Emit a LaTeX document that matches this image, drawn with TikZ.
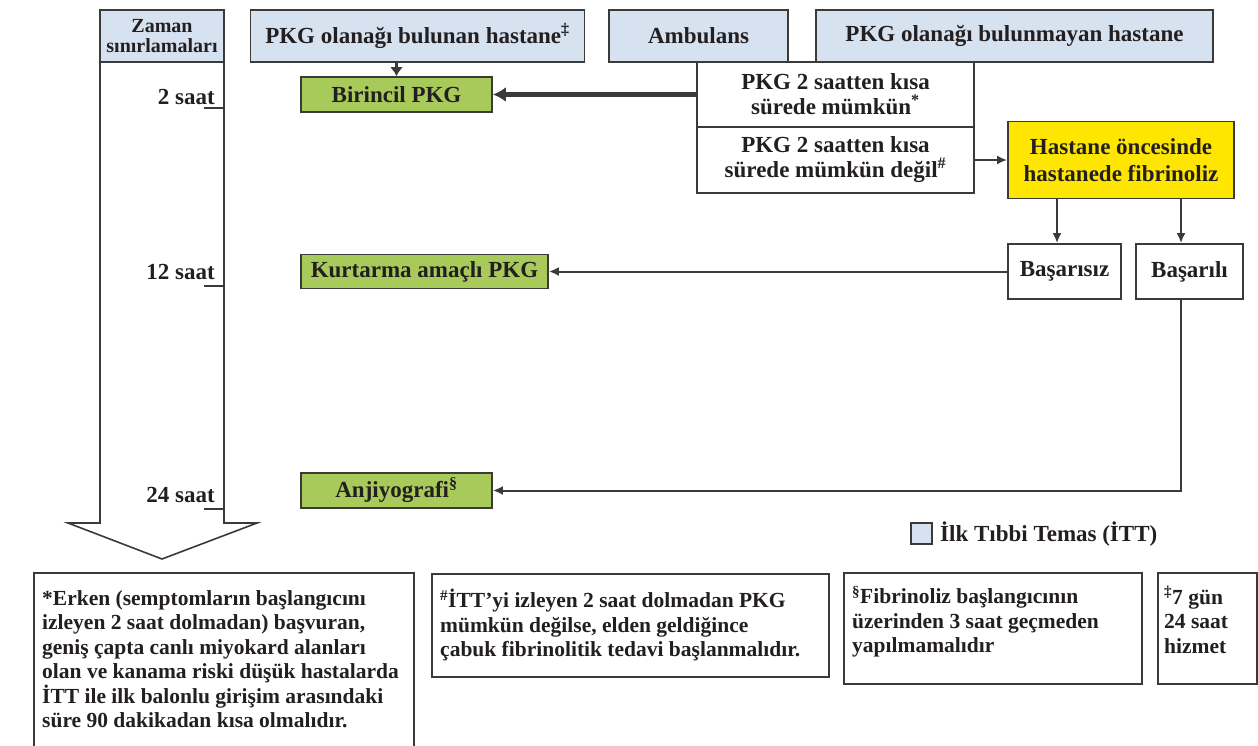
\documentclass[tikz,border=0pt]{standalone}
\usepackage{fontspec}
\setmainfont{Liberation Serif}
\usetikzlibrary{arrows.meta}
\definecolor{ink}{HTML}{231F20}
\definecolor{itt}{HTML}{D6E2F0}
\definecolor{grn}{HTML}{A8CA5A}
\definecolor{ylw}{HTML}{FFE600}
\definecolor{edge}{HTML}{3A3A3A}
\begin{document}
\begin{tikzpicture}[x=1pt,y=-1pt,
  every node/.style={font=\bfseries\fontsize{23}{23}\selectfont, text=ink},
  box/.style={draw=edge, line width=1.8pt, inner sep=0pt, align=center},
  ittbox/.style={box, fill=itt, minimum height=52pt},
  greenbox/.style={box, fill=grn, minimum height=35pt},
  whitebox/.style={box, fill=white},
  twoline/.style={font=\bfseries\fontsize{23}{25}\selectfont},
  notebox/.style={draw=edge, line width=1.8pt, inner sep=0pt, anchor=north west},
  notetext/.style={anchor=north west, align=left, inner sep=0pt, font=\bfseries\fontsize{21.5}{24.5}\selectfont},
  timelabel/.style={anchor=base east, inner sep=0pt},
  tick/.style={draw=edge, line width=1.6pt},
  thin arrow/.style={draw=edge, line width=2pt, -{Latex[length=10pt,width=9pt]}},
]
\useasboundingbox (0,0) rectangle (1258,745);
\fill[white] (0,0) rectangle (1258,745);

% big time arrow
\draw[draw=edge, line width=1.6pt, fill=white, line join=miter]
  (100,62) -- (100,523) -- (68,523) -- (162,559) -- (257,523) -- (224,523) -- (224,62);
\node[ittbox, minimum width=124pt, font=\bfseries\fontsize{20}{20}\selectfont] (zaman) at (162,36) {Zaman\\sınırlamaları};

% time labels and ticks
\node[timelabel] (t2) at (215,104) {2 saat};
\node[timelabel] (t12) at (215,279) {12 saat};
\node[timelabel] (t24) at (215,502) {24 saat};
\draw[tick] (204,108) -- (224,108);
\draw[tick] (204,286) -- (224,286);
\draw[tick] (204,509) -- (224,509);

% top row
\node[ittbox, minimum width=334pt] (bulunan) at (417.5,36) {PKG olanağı bulunan hastane\textsuperscript{‡}};
\node[ittbox, minimum width=179pt] (amb) at (698.5,36) {Ambulans};
\node[ittbox, minimum width=397pt] (bulunmayan) at (1014.5,36) {PKG olanağı bulunmayan hastane};

% white decision boxes
\node[whitebox, twoline, minimum width=277pt, minimum height=65pt] (pkgA) at (835.5,94.5) {PKG 2 saatten kısa\\sürede mümkün\textsuperscript{*}};
\node[whitebox, twoline, minimum width=277pt, minimum height=66pt] (pkgB) at (835.5,160) {PKG 2 saatten kısa\\sürede mümkün değil\textsuperscript{\#}};

% treatment boxes
\node[greenbox, minimum width=191pt] (birincil) at (396.5,94.5) {Birincil PKG};
\node[box, fill=ylw, minimum width=226pt, minimum height=77pt, font=\bfseries\fontsize{23}{27}\selectfont] (fibr) at (1121,160) {Hastane öncesinde\\hastanede fibrinoliz};
\node[whitebox, minimum width=113pt, minimum height=55pt] (basarisiz) at (1064.5,271.5) {Başarısız};
\node[whitebox, minimum width=107pt, minimum height=55pt] (basarili) at (1189.5,271.5) {Başarılı};
\node[greenbox, minimum width=247pt, minimum height=34pt] (kurtarma) at (424.5,271.5) {Kurtarma amaçlı PKG};
\node[greenbox, minimum width=191pt] (anjiyo) at (396.5,490.5) {Anjiyografi\textsuperscript{§}};

% connectors
\draw[draw=edge, line width=3.5pt, -{Latex[length=9pt,width=13pt]}] (birincil.north |- bulunan.south) -- (birincil.north);
\draw[draw=edge, line width=4.5pt, -{Latex[length=13pt,width=15pt]}] (pkgA.west) -- (pkgA.west -| birincil.east);
\draw[thin arrow] (pkgB.east) -- (pkgB.east -| fibr.west);
\draw[thin arrow] ([xshift=-7.5pt]basarisiz.north |- fibr.south) -- ([xshift=-7.5pt]basarisiz.north);
\draw[thin arrow] ([xshift=-8.5pt]basarili.north |- fibr.south) -- ([xshift=-8.5pt]basarili.north);
\draw[thin arrow] (basarisiz.west) -- (kurtarma.east);
\draw[thin arrow] ([xshift=-8.5pt]basarili.south) |- (anjiyo.east);

% legend
\node[draw=edge, fill=itt, line width=1.6pt, minimum size=21pt, inner sep=0pt] (legsq) at (921.5,533.5) {};
\node[anchor=west, inner sep=0pt] (legtxt) at (940,534) {İlk Tıbbi Temas (İTT)};

% footnotes
\node[notebox, minimum width=380pt, minimum height=190pt] (fn1) at (33,572) {};
\node[notetext] (fn1t) at (42,590) {*Erken (semptomların başlangıcını\\izleyen 2 saat dolmadan) başvuran,\\geniş çapta canlı miyokard alanları\\olan ve kanama riski düşük hastalarda\\İTT ile ilk balonlu girişim arasındaki\\süre 90 dakikadan kısa olmalıdır.};
\node[notebox, minimum width=397pt, minimum height=103pt] (fn2) at (431,573) {};
\node[notetext] (fn2t) at (440,589) {\textsuperscript{\#}İTT’yi izleyen 2 saat dolmadan PKG\\mümkün değilse, elden geldiğince\\çabuk fibrinolitik tedavi başlanmalıdır.};
\node[notebox, minimum width=298pt, minimum height=111pt] (fn3) at (843,572) {};
\node[notetext] (fn3t) at (852,586) {\textsuperscript{§}Fibrinoliz başlangıcının\\üzerinden 3 saat geçmeden\\yapılmamalıdır};
\node[notebox, minimum width=99pt, minimum height=111pt] (fn4) at (1157,572) {};
\node[notetext] (fn4t) at (1164,586) {\textsuperscript{‡}7 gün\\24 saat\\hizmet};
\end{tikzpicture}
\end{document}
